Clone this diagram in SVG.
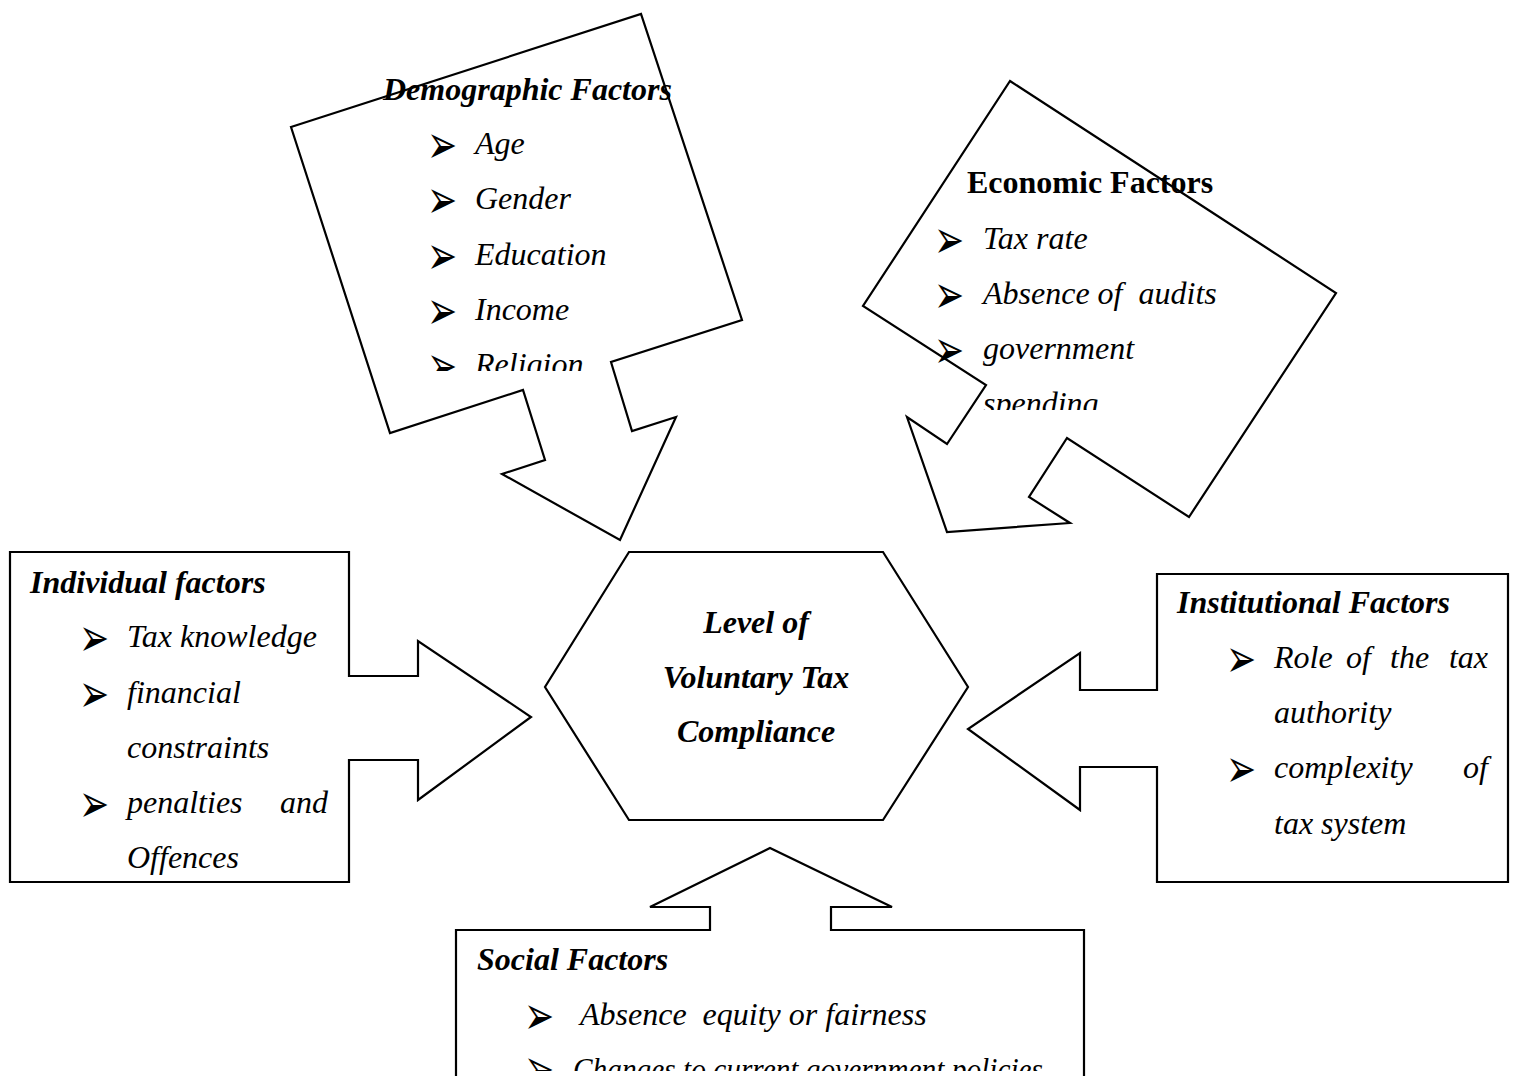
<svg xmlns="http://www.w3.org/2000/svg" xmlns:xlink="http://www.w3.org/1999/xlink" width="1513" height="1076" viewBox="0 0 1513 1076">
<style>
.shape{fill:#fff;stroke:#000;stroke-width:2.2;stroke-linejoin:miter}
.t{font-family:"Liberation Serif","Times New Roman",serif;font-size:32px;font-style:italic;fill:#000;white-space:pre}
.h{font-weight:bold}
.up{font-style:normal}
.bul{font-family:"DejaVu Sans",sans-serif;font-size:36px;fill:#000}
.c{text-anchor:middle}
.e{text-anchor:end}
</style>
<defs>
<text id="bul" class="bul" transform="scale(1,1.5)">➢</text>
<clipPath id="clipDemo"><rect x="370" y="60" width="340" height="311"/></clipPath>
<clipPath id="clipEco"><rect x="920" y="150" width="330" height="260"/></clipPath>
<clipPath id="clipSoc"><rect x="470" y="935" width="610" height="136"/></clipPath>
</defs>
<rect width="1513" height="1076" fill="#fff"/>
<g id="connectors"/>
<g id="node-demographic">
<polygon class="shape" points="291,127 641,14 742,320 611,362 632,431 676,417 620,540 502,474 545,460 523,390 390,433"/>
<g clip-path="url(#clipDemo)">
<text class="t h" x="383" y="100">Demographic Factors</text>
<use href="#bul" xlink:href="#bul" x="427" y="162.6"/><text class="t" x="475" y="154">Age</text>
<use href="#bul" xlink:href="#bul" x="427" y="217.6"/><text class="t" x="475" y="209">Gender</text>
<use href="#bul" xlink:href="#bul" x="427" y="273.6"/><text class="t" x="475" y="265">Education</text>
<use href="#bul" xlink:href="#bul" x="427" y="328.6"/><text class="t" x="475" y="320">Income</text>
<use href="#bul" xlink:href="#bul" x="427" y="383.6"/><text class="t" x="475" y="375">Religion</text>
</g>
</g>
<g id="node-economic">
<polygon class="shape" points="1010,81 1336,293 1189,517 1067,438 1029,497 1070,523 947,532 907,417 947,444 986,385 863,306"/>
<g clip-path="url(#clipEco)">
<text class="t h up" x="967" y="193">Economic Factors</text>
<use href="#bul" xlink:href="#bul" x="934" y="257.6"/><text class="t" x="983" y="249">Tax rate</text>
<use href="#bul" xlink:href="#bul" x="934" y="312.6"/><text class="t" x="983" y="304">Absence of  audits</text>
<use href="#bul" xlink:href="#bul" x="934" y="367.6"/><text class="t" x="983" y="359">government</text>
<text class="t" x="983" y="414">spending</text>
</g>
</g>
<g id="node-center">
<polygon class="shape" points="629,552 883,552 968,687 883,820 629,820 545,687"/>
<text class="t h c" x="756" y="633">Level of</text>
<text class="t h c" x="756" y="688">Voluntary Tax</text>
<text class="t h c" x="756" y="742">Compliance</text>
</g>
<g id="node-individual">
<polygon class="shape" points="10,552 349,552 349,676 418,676 418,641 531,717 418,800 418,760 349,760 349,882 10,882"/>
<text class="t h" x="30" y="593">Individual factors</text>
<use href="#bul" xlink:href="#bul" x="79" y="655.6"/><text class="t" x="127" y="647">Tax knowledge</text>
<use href="#bul" xlink:href="#bul" x="79" y="711.6"/><text class="t" x="127" y="703">financial</text>
<text class="t" x="127" y="758">constraints</text>
<use href="#bul" xlink:href="#bul" x="79" y="821.6"/><text class="t" x="127" y="813">penalties</text><text class="t e" x="328" y="813">and</text>
<text class="t" x="127" y="868">Offences</text>
</g>
<g id="node-institutional">
<polygon class="shape" points="1157,574 1508,574 1508,882 1157,882 1157,767 1080,767 1080,810 968,729 1080,653 1080,690 1157,690"/>
<text class="t h" x="1177" y="613">Institutional Factors</text>
<use href="#bul" xlink:href="#bul" x="1226" y="676.6"/>
<text class="t" x="1274" y="668">Role</text><text class="t" x="1346" y="668">of</text><text class="t" x="1390" y="668">the</text><text class="t e" x="1488" y="668">tax</text>
<text class="t" x="1274" y="723">authority</text>
<use href="#bul" xlink:href="#bul" x="1226" y="786.6"/>
<text class="t" x="1274" y="778">complexity</text><text class="t e" x="1488" y="778">of</text>
<text class="t" x="1274" y="834">tax system</text>
</g>
<g id="node-social">
<polygon class="shape" points="456,930 710,930 710,907 650,907 770,848 892,907 831,907 831,930 1084,930 1084,1090 456,1090"/>
<g clip-path="url(#clipSoc)">
<text class="t h" x="477" y="970">Social Factors</text>
<use href="#bul" xlink:href="#bul" x="524" y="1033.6"/><text class="t" x="580" y="1025">Absence  equity or fairness</text>
<use href="#bul" xlink:href="#bul" x="524" y="1086.6"/><text class="t" x="573" y="1080" textLength="470" lengthAdjust="spacingAndGlyphs">Changes to current government policies</text>
</g>
</g>
</svg>
